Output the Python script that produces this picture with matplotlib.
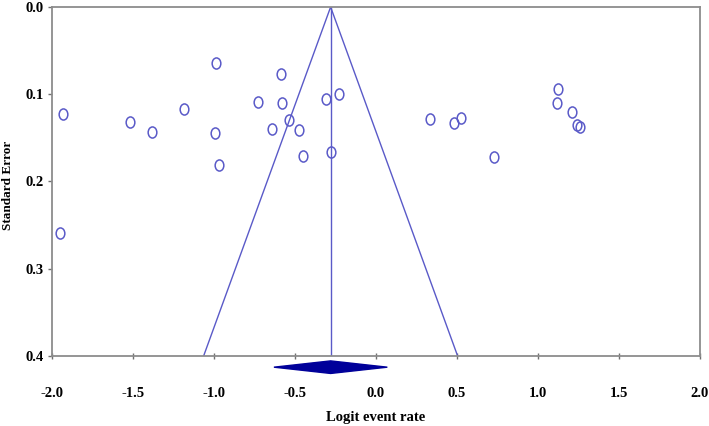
import matplotlib
matplotlib.use("Agg")
import matplotlib.pyplot as plt
from matplotlib.path import Path
from matplotlib.transforms import Affine2D

# ---------------- data ----------------
logit = [-1.93, -1.52, -1.385, -1.185, -0.99, -0.992, -0.969, -0.586, -0.727,
         -0.582, -0.535, -0.64, -0.473, -0.449, -0.31, -0.226, -0.278, -1.951,
         0.333, 0.483, 0.525, 0.728, 1.122, 1.115, 1.21, 1.239, 1.259]
std_err = [0.1226, 0.132, 0.143, 0.117, 0.0645, 0.144, 0.1806, 0.0768, 0.1085,
           0.110, 0.1294, 0.1397, 0.141, 0.1707, 0.1054, 0.0993, 0.1657, 0.2589,
           0.128, 0.1333, 0.127, 0.1714, 0.0943, 0.1096, 0.1207, 0.135, 0.1378]

pooled = -0.28          # combined logit event rate
ci_low, ci_high = -0.63, 0.07
se_max = 0.4

x_ticks = [-2.0, -1.5, -1.0, -0.5, 0.0, 0.5, 1.0, 1.5, 2.0]
y_ticks = [0.0, 0.1, 0.2, 0.3, 0.4]

LINE_COL = "#5a5ac8"
DIAMOND_COL = "#00009a"

plt.rcParams["font.family"] = ["Liberation Serif", "DejaVu Serif"]
plt.rcParams["font.weight"] = "bold"

fig = plt.figure(figsize=(7.09, 4.26), dpi=100)
ax = fig.add_axes([0.0733, 0.1643, 0.914, 0.8193])

# elliptic open markers (a bit taller than wide)
oval = Path.unit_circle().transformed(Affine2D().scale(0.78, 1.0))
ax.plot(logit, std_err, linestyle="none", marker=oval, markersize=8,
        markerfacecolor="none", markeredgecolor=LINE_COL, markeredgewidth=1.1)

# funnel
ax.plot([pooled - 1.96 * se_max, pooled, pooled + 1.96 * se_max], [se_max, 0, se_max],
        color=LINE_COL, linewidth=1.0)
ax.plot([pooled, pooled], [0, se_max], color=LINE_COL, linewidth=1.0)

# summary diamond under the axis
dy = 0.0072
yc = se_max + 0.0128
ax.fill([ci_low, pooled, ci_high, pooled], [yc, yc - dy, yc, yc + dy],
        color=DIAMOND_COL, clip_on=False, zorder=5)

ax.set_xlim(-2.0, 2.0)
ax.set_ylim(0.4, 0.0)
ax.set_xticks(x_ticks)
ax.set_yticks(y_ticks)
ax.set_xticklabels([f"{t:.1f}" for t in x_ticks])
ax.set_yticklabels([f"{t:.1f}" for t in y_ticks])
ax.tick_params(axis="x", direction="inout", length=4, width=1, color="#707070",
               labelsize=10.5, pad=20.5)
ax.tick_params(axis="y", direction="out", length=3, width=1, color="#707070",
               labelsize=10.5, pad=3)

for s in ax.spines.values():
    s.set_color("#8c8c8c")
    s.set_linewidth(1.3)

ax.set_xlabel("Logit event rate", fontsize=10.5, fontweight="bold", labelpad=8)
ax.set_ylabel("Standard Error", fontsize=9.5, fontweight="bold")
ax.yaxis.set_label_coords(-0.058, 0.49)

fig.savefig("out.png", dpi=100)
